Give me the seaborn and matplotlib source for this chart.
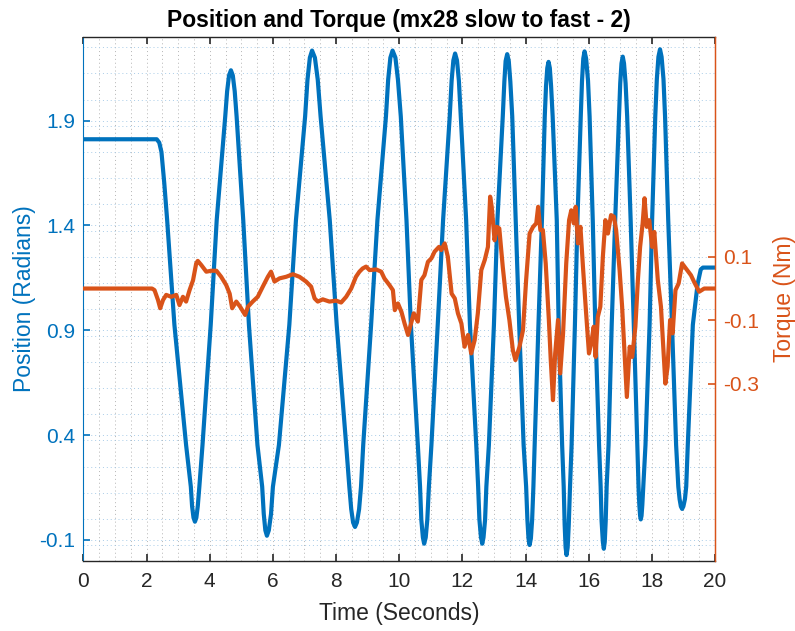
import matplotlib
matplotlib.use("Agg")
import matplotlib.pyplot as plt
from matplotlib.ticker import MultipleLocator
import seaborn as sns
import pandas as pd

# ---- data ----
pos_time = [0.00, 2.32, 2.40, 2.47, 2.56, 2.65, 2.88, 3.25, 3.40, 3.44, 3.485, 3.53, 3.575,
            3.62, 3.67, 3.77, 4.03, 4.22, 4.49, 4.55, 4.61, 4.67, 4.73, 4.79, 4.85, 5.06,
            5.24, 5.51, 5.66, 5.71, 5.76, 5.81, 5.87, 5.94, 6.00, 6.19, 6.52, 6.73, 7.02,
            7.095, 7.17, 7.24, 7.33, 7.42, 7.51, 7.80, 8.02, 8.32, 8.42, 8.48, 8.54, 8.60,
            8.66, 8.73, 8.79, 8.86, 9.11, 9.31, 9.58, 9.65, 9.72, 9.79, 9.88, 9.96, 10.05,
            10.23, 10.37, 10.59, 10.66, 10.70, 10.75, 10.79, 10.84, 10.89, 10.94, 11.02,
            11.22, 11.39, 11.60, 11.66, 11.715, 11.77, 11.83, 11.89, 11.95, 12.12, 12.24,
            12.44, 12.50, 12.54, 12.59, 12.63, 12.67, 12.72, 12.76, 12.84, 13.00, 13.11,
            13.28, 13.33, 13.37, 13.42, 13.47, 13.52, 13.58, 13.69, 13.80, 13.94, 14.02,
            14.06, 14.095, 14.13, 14.17, 14.21, 14.25, 14.29, 14.41, 14.52, 14.61, 14.65,
            14.69, 14.73, 14.77, 14.81, 14.86, 14.99, 15.05, 15.16, 15.21, 15.24, 15.27,
            15.30, 15.335, 15.37, 15.41, 15.46, 15.565, 15.645, 15.75, 15.79, 15.83, 15.87,
            15.92, 15.98, 16.03, 16.13, 16.21, 16.33, 16.38, 16.41, 16.45, 16.48, 16.51,
            16.54, 16.57, 16.63, 16.73, 16.84, 16.96, 17.00, 17.04, 17.08, 17.12, 17.17,
            17.22, 17.33, 17.43, 17.54, 17.58, 17.605, 17.63, 17.65, 17.675, 17.70, 17.73,
            17.80, 17.93, 18.01, 18.11, 18.16, 18.21, 18.26, 18.31, 18.37, 18.42, 18.52,
            18.64, 18.77, 18.84, 18.88, 18.92, 18.96, 19.00, 19.05, 19.09, 19.14, 19.30,
            19.45, 19.55, 19.62, 20.00]
pos_value = [1.811, 1.811, 1.795, 1.75, 1.60, 1.426, 0.926, 0.353, 0.154, 0.061, 0.006, -0.013,
             0.006, 0.061, 0.154, 0.353, 0.926, 1.426, 1.92, 2.04, 2.115, 2.140, 2.115, 2.04,
             1.92, 1.426, 0.926, 0.353, 0.154, 0.024, -0.054, -0.080, -0.054, 0.024, 0.154,
             0.353, 0.926, 1.426, 1.92, 2.095, 2.20, 2.234, 2.20, 2.095, 1.92, 1.426, 0.926,
             0.353, 0.154, 0.047, -0.017, -0.038, -0.017, 0.047, 0.154, 0.353, 0.926, 1.426,
             1.92, 2.095, 2.20, 2.234, 2.20, 2.095, 1.92, 1.426, 0.926, 0.353, 0.154, -0.003,
             -0.088, -0.118, -0.088, -0.003, 0.154, 0.353, 0.926, 1.426, 1.92, 2.09, 2.187,
             2.220, 2.187, 2.09, 1.92, 1.426, 0.926, 0.353, 0.154, -0.003, -0.088, -0.118,
             -0.088, -0.003, 0.154, 0.353, 0.926, 1.426, 1.92, 2.085, 2.184, 2.217, 2.184,
             2.085, 1.92, 1.426, 0.926, 0.353, 0.154, -0.004, -0.093, -0.124, -0.093, -0.004,
             0.154, 0.353, 0.926, 1.426, 1.92, 2.065, 2.151, 2.180, 2.151, 2.065, 1.92, 1.426,
             0.926, 0.353, 0.154, -0.027, -0.136, -0.172, -0.136, -0.027, 0.154, 0.353,
             0.926, 1.426, 1.92, 2.09, 2.196, 2.230, 2.196, 2.09, 1.92, 1.426, 0.926, 0.353,
             0.154, -0.010, -0.109, -0.142, -0.109, -0.010, 0.154, 0.353, 0.926, 1.426, 1.92,
             2.078, 2.173, 2.205, 2.173, 2.078, 1.92, 1.426, 0.926, 0.353, 0.154, 0.067,
             0.015, -0.002, 0.015, 0.067, 0.154, 0.353, 0.926, 1.426, 1.92, 2.098, 2.204,
             2.240, 2.204, 2.098, 1.92, 1.426, 0.926, 0.353, 0.154, 0.095, 0.060, 0.048,
             0.060, 0.095, 0.154, 0.353, 0.926, 1.12, 1.19, 1.199, 1.199]

tq_time = [0.00, 2.17, 2.25, 2.36, 2.43, 2.52, 2.62, 2.78, 2.94, 3.04, 3.15, 3.25, 3.36, 3.47,
           3.57, 3.62, 3.73, 3.89, 4.05, 4.21, 4.36, 4.52, 4.63, 4.71, 4.84, 4.96, 5.12, 5.21,
           5.36, 5.52, 5.68, 5.84, 5.94, 6.05, 6.21, 6.42, 6.63, 6.84, 7.05, 7.21, 7.32, 7.42,
           7.58, 7.79, 8.00, 8.16, 8.32, 8.48, 8.63, 8.74, 8.84, 8.95, 9.06, 9.27, 9.43, 9.53,
           9.69, 9.80, 9.86, 9.96, 10.07, 10.17, 10.28, 10.35, 10.46, 10.59, 10.70, 10.80,
           10.91, 11.02, 11.12, 11.26, 11.33, 11.44, 11.54, 11.66, 11.76, 11.86, 11.97, 12.07,
           12.18, 12.28, 12.39, 12.49, 12.60, 12.71, 12.81, 12.88, 12.93, 13.02, 13.09, 13.17,
           13.28, 13.38, 13.49, 13.60, 13.68, 13.81, 13.92, 14.02, 14.13, 14.24, 14.34, 14.40,
           14.47, 14.55, 14.64, 14.74, 14.80, 14.87, 14.94, 15.03, 15.10, 15.19, 15.29, 15.38,
           15.45, 15.53, 15.59, 15.66, 15.74, 15.82, 15.92, 16.01, 16.08, 16.16, 16.22, 16.29,
           16.37, 16.45, 16.53, 16.61, 16.71, 16.80, 16.87, 16.98, 17.06, 17.15, 17.21, 17.30,
           17.38, 17.48, 17.56, 17.63, 17.71, 17.77, 17.84, 17.92, 18.01, 18.08, 18.19, 18.29,
           18.37, 18.43, 18.50, 18.58, 18.66, 18.75, 18.85, 18.96, 19.08, 19.24, 19.34, 19.50,
           19.66, 20.00]
tq_value = [0.0, 0.0, -0.005, -0.036, -0.062, -0.036, -0.020, -0.026, -0.020, -0.052, -0.026,
            -0.041, -0.005, 0.026, 0.079, 0.087, 0.074, 0.053, 0.056, 0.056, 0.037, 0.011,
            -0.016, -0.062, -0.041, -0.057, -0.083, -0.057, -0.041, -0.026, 0.006, 0.037,
            0.053, 0.022, 0.032, 0.037, 0.045, 0.037, 0.022, 0.006, -0.031, -0.041, -0.034,
            -0.041, -0.038, -0.044, -0.026, 0.0, 0.037, 0.053, 0.063, 0.069, 0.058, 0.060,
            0.053, 0.032, 0.011, -0.005, -0.068, -0.047, -0.073, -0.110, -0.146, -0.120,
            -0.078, -0.104, 0.027, 0.042, 0.084, 0.095, 0.116, 0.131, 0.121, 0.142, 0.100,
            -0.016, -0.031, -0.078, -0.110, -0.183, -0.146, -0.204, -0.162, -0.078, 0.058,
            0.090, 0.131, 0.289, 0.257, 0.152, 0.194, 0.189, 0.068, -0.026, -0.099, -0.194,
            -0.225, -0.183, -0.131, 0.027, 0.173, 0.194, 0.205, 0.257, 0.184, 0.184, 0.079,
            -0.099, -0.225, -0.351, -0.204, -0.099, -0.267, -0.141, 0.079, 0.215, 0.246,
            0.205, 0.257, 0.142, 0.194, 0.068, -0.078, -0.204, -0.173, -0.120, -0.215,
            -0.089, -0.057, 0.100, 0.215, 0.173, 0.231, 0.226, 0.184, 0.058, -0.057, -0.225,
            -0.341, -0.183, -0.215, -0.120, 0.027, 0.131, 0.205, 0.284, 0.194, 0.215, 0.131,
            0.178, 0.027, -0.057, -0.194, -0.299, -0.246, -0.099, -0.141, -0.005, 0.016,
            0.079, 0.063, 0.042, 0.021, -0.010, 0.0, 0.0]

x_ticks = [0, 2, 4, 6, 8, 10, 12, 14, 16, 18, 20]
pos_ticks = [-0.1, 0.4, 0.9, 1.4, 1.9]
tq_ticks = [-0.3, -0.1, 0.1]

title_text = "Position and Torque (mx28 slow to fast - 2)"
x_label = "Time (Seconds)"
pos_label = "Position (Radians)"
tq_label = "Torque (Nm)"

# ---- styling ----
BLUE = "#0072BD"
ORANGE = "#D95319"
DARK = "#262626"

sns.set_style("white")
plt.rcParams["font.family"] = ["Liberation Sans", "DejaVu Sans"]

fig = plt.figure(figsize=(7.95, 6.31), dpi=100)
ax = fig.add_axes([0.1050, 0.1114, 0.7943, 0.8304])

pos_df = pd.DataFrame({"t": pos_time, "v": pos_value})
tq_df = pd.DataFrame({"t": tq_time, "v": tq_value})

# grid (dotted, minor spacing like MATLAB)
ax.set_xlim(0, 20)
ax.set_ylim(-0.199, 2.30)
ax.xaxis.set_major_locator(MultipleLocator(2))
ax.xaxis.set_minor_locator(MultipleLocator(0.5))
ax.set_yticks(pos_ticks)
ax.yaxis.set_minor_locator(MultipleLocator(0.125))
ax.xaxis.grid(True, which="both", color="#b4b4b4", linestyle=(0, (1, 3)), linewidth=0.7)
ax.yaxis.grid(True, which="both", color="#a9cce8", linestyle=(0, (1, 3)), linewidth=0.7)
ax.set_axisbelow(True)

sns.lineplot(data=pos_df, x="t", y="v", ax=ax, color=BLUE, linewidth=3.0,
             estimator=None, sort=False)
line = ax.get_lines()[-1]
line.set_solid_joinstyle("round")
ax.set_xlim(0, 20)
ax.set_ylim(-0.199, 2.30)
ax.set_xticks(x_ticks)
ax.set_xticklabels([str(v) for v in x_ticks])
ax.set_yticks(pos_ticks)
ax.set_yticklabels([f"{v:.1f}" for v in pos_ticks])

ax.tick_params(axis="x", which="major", direction="in", length=5, width=1.2,
               colors=DARK, labelsize=15, top=True, bottom=True, pad=8)
ax.tick_params(axis="y", which="major", direction="in", length=5, width=1.2,
               colors=BLUE, labelsize=15, left=True, right=True, pad=6)
ax.tick_params(which="minor", length=0)

ax.set_xlabel(x_label, fontsize=16.5, color=DARK, labelpad=8)
ax.set_ylabel(pos_label, fontsize=16.5, color=BLUE, labelpad=2)
ax.set_title(title_text, fontsize=16.5, fontweight="bold", color="black", pad=7)

for side in ["top", "bottom"]:
    ax.spines[side].set_color(DARK)
    ax.spines[side].set_linewidth(1.0)
ax.spines["left"].set_color(BLUE)
ax.spines["right"].set_color(ORANGE)
for s in ax.spines.values():
    s.set_visible(True)

ax2 = ax.twinx()
sns.lineplot(data=tq_df, x="t", y="v", ax=ax2, color=ORANGE, linewidth=3.0,
             estimator=None, sort=False)
ax2.get_lines()[-1].set_solid_joinstyle("round")
ax2.set_xlim(0, 20)
ax2.set_ylim(-0.856, 0.792)
ax2.set_yticks(tq_ticks)
ax2.set_yticklabels([f"{v:.1f}" for v in tq_ticks])
ax2.tick_params(axis="y", direction="in", length=5, width=1.2, colors=ORANGE,
                labelsize=15, pad=6)
ax2.set_ylabel(tq_label, fontsize=16.5, color=ORANGE)
ax2.yaxis.set_label_coords(1.092, 0.5)
ax2.grid(False)
for side in ["top", "bottom", "left"]:
    ax2.spines[side].set_visible(False)
ax2.spines["right"].set_color(ORANGE)
ax2.spines["right"].set_linewidth(1.0)
ax2.set_xlabel("")

fig.savefig("out.png", dpi=100)
